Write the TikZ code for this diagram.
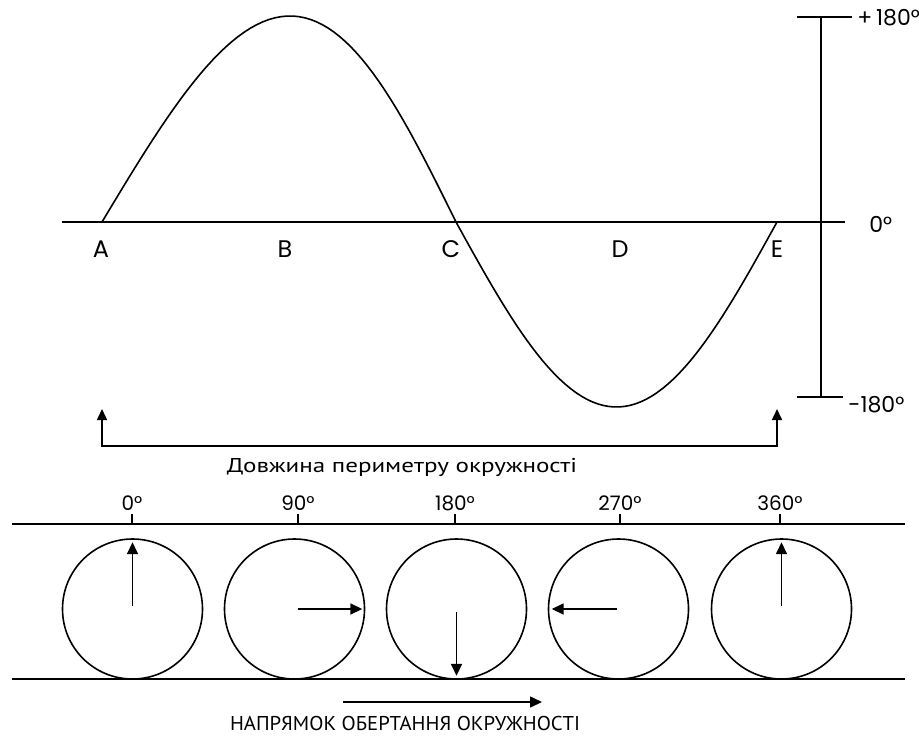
\documentclass[tikz,border=0pt]{standalone}
\usepackage{graphicx}
\usepackage{fontspec}
\newfontfamily\geofont{Poppins}
\newfontfamily\cyrfont{PT Sans}
\newcommand\stretchto[2]{\resizebox{#1}{\height}{#2}}
\usetikzlibrary{arrows.meta,positioning}

\begin{document}
\begin{tikzpicture}[
    x=0.5pt, y=-0.5pt,
    line/.style    = {draw=black, line width=0.8pt},
    arr/.style     = {-{Triangle[length=6pt,width=5.5pt]}, line width=0.8pt},
    bracket/.style = {{Triangle[length=5.5pt,width=5pt]}-{Triangle[length=5.5pt,width=5pt]},
                      line width=0.8pt},
    letter/.style  = {font=\geofont\fontsize{12}{14}\selectfont, inner sep=0pt},
    deg/.style     = {font=\geofont\fontsize{10}{12}\selectfont, inner sep=0pt},
    scalelab/.style= {font=\geofont\fontsize{11}{13}\selectfont, inner sep=0pt},
    caption/.style = {font=\cyrfont\fontsize{10}{12}\selectfont, inner sep=0pt},
    wheel/.style   = {draw, circle, line width=0.8pt, minimum size=70pt, inner sep=0pt},
  ]
  \useasboundingbox (0,0) rectangle (919,738);

  % phase scale
  \coordinate (axL)  at (62,222);
  \coordinate (axR)  at (845,222);
  \coordinate (vtop) at (821,17);
  \coordinate (vbot) at (821,397);
  \draw[line] (axL) -- (axR);
  \draw[line] (vtop) -- (vbot);
  \draw[line] ([xshift=-12pt]vtop) -- ([xshift=15.5pt]vtop);
  \draw[line] ([xshift=-12pt]vbot) -- ([xshift=11pt]vbot);
  \node[scalelab, anchor=west] (p180) at (857,18)  {+\,180°};
  \node[scalelab, anchor=west] (z0)   at (869,224) {0°};
  \node[scalelab, anchor=west] (m180) at (848,405) {-180°};

  % wave
  \draw[line] plot[domain=0:180, samples=60] ({102+354*(\x/180)+11*sin(\x)},{222-206*sin(\x)});
  \draw[line] plot[domain=0:180, samples=60] ({456+321*(\x/180)},{222+185*sin(\x)});

  \node[letter] (A) at (101,249) {A};
  \node[letter] (B) at (285,249) {B};
  \node[letter] (C) at (451,249) {C};
  \node[letter] (D) at (620,249) {D};
  \node[letter] (E) at (777,249) {E};

  % circumference
  \coordinate (tipL) at (102,409);
  \coordinate (tipR) at (777,409);
  \coordinate (brL)  at (102,446);
  \coordinate (brR)  at (777,446);
  \draw[bracket] (tipL) -- (brL) -- (brR) -- (tipR);
  \node[caption] (perim) at (402,467) {\stretchto{175pt}{Довжина периметру окружності}};

  % rails
  \coordinate (railTL) at (12,524);
  \coordinate (railTR) at (905,524);
  \coordinate (railBL) at (12,679);
  \coordinate (railBR) at (905,679);
  \draw[line] (railTL) -- (railTR);
  \draw[line, line width=1pt] (railBL) -- (railBR);

  % wheels
  \node[wheel] (w0) at (132.5,609) {};
  \node[wheel] (w1) at (294.5,609) {};
  \node[wheel] (w2) at (456.5,609) {};
  \node[wheel] (w3) at (618.5,609) {};
  \node[wheel] (w4) at (781.5,609) {};

  \node[deg] (d0) at (132,503) {0°};
  \node[deg] (d1) at (298,503) {90°};
  \node[deg] (d2) at (455,503) {180°};
  \node[deg] (d3) at (620,503) {270°};
  \node[deg] (d4) at (780,503) {360°};
  \draw[line] ([yshift=-1.5pt]d0.south) -- (d0.south |- railTL);
  \draw[line] ([yshift=-1.5pt]d1.south) -- (d1.south |- railTL);
  \draw[line] ([yshift=-1.5pt]d2.south) -- (d2.south |- railTL);
  \draw[line] ([yshift=-1.5pt]d3.south) -- (d3.south |- railTL);
  \draw[line] ([yshift=-1.5pt]d4.south) -- (d4.south |- railTL);

  \draw[arr] ([yshift=1.5pt]w0.center)  -- ([yshift=-2pt]w0.north);
  \draw[arr] ([xshift=1.5pt]w1.center)  -- ([xshift=-1.5pt]w1.east);
  \draw[arr] ([yshift=-1.5pt]w2.center) -- ([yshift=2pt]w2.south);
  \draw[arr] ([xshift=-1pt]w3.center)   -- ([xshift=2pt]w3.west);
  \draw[arr] ([yshift=1.5pt]w4.center)  -- ([yshift=-2pt]w4.north);

  % direction of rotation
  \coordinate (dirL) at (343,702);
  \coordinate (dirR) at (542,702);
  \draw[arr] (dirL) -- (dirR);
  \node[caption] (dirtext) at (405,723) {\stretchto{175pt}{НАПРЯМОК ОБЕРТАННЯ ОКРУЖНОСТІ}};
\end{tikzpicture}
\end{document}
